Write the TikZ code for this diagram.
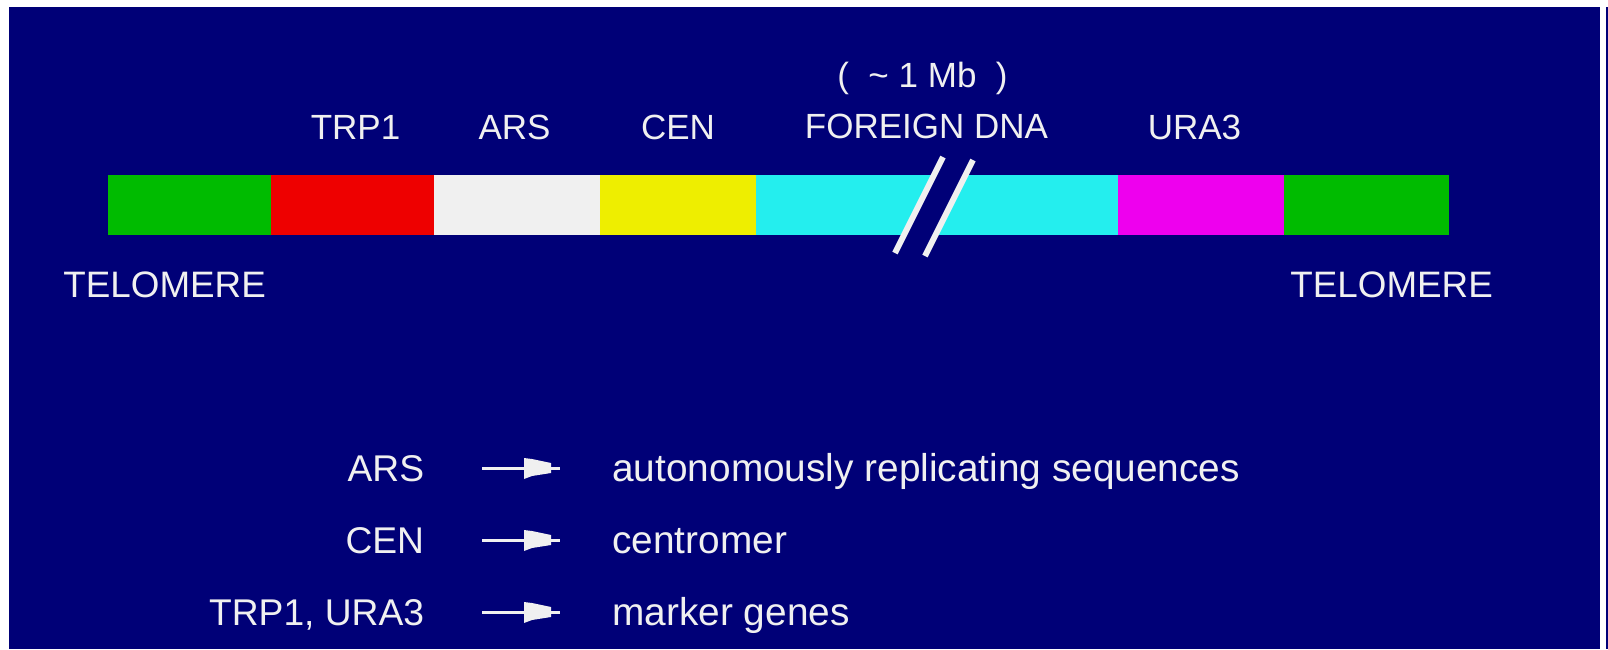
\documentclass[tikz,border=0pt]{standalone}
\usepackage{fontspec}
\setmainfont{Liberation Sans}
\definecolor{navy}{RGB}{0,0,119}
\definecolor{tgreen}{RGB}{0,187,0}
\definecolor{tred}{RGB}{238,0,0}
\definecolor{twhite}{RGB}{240,240,240}
\definecolor{tyellow}{RGB}{238,238,0}
\definecolor{tcyan}{RGB}{36,238,238}
\definecolor{tmag}{RGB}{238,0,238}
\begin{document}
\begin{tikzpicture}[x=0.5pt,y=-0.5pt,
  lbl/.style={text=twhite, inner sep=0pt, font=\fontsize{17.5}{20}\selectfont, anchor=base},
  tel/.style={lbl, font=\fontsize{18.4}{20}\selectfont, anchor=base west},
  legl/.style={text=twhite, inner sep=0pt, font=\fontsize{18.6}{22}\selectfont, anchor=base east},
  legr/.style={legl, font=\fontsize{19.4}{22}\selectfont, anchor=base west},
  legline/.style={draw=twhite, line width=1.5pt},
  slash/.style={draw=twhite, line width=3pt},
  legarrowhead/.pic={\fill[twhite] (42,-10) -- (50,-9) -- (69,-5) -- (69,5) -- (50,8) -- (42,11) -- cycle;}]
\useasboundingbox (0,0) rectangle (1608,649);
\fill[white] (0,0) rectangle (1608,649);
\fill[navy] (9,7) rectangle (1600,649);
\fill[navy] (1606,7) rectangle (1608,649);
% chromosome bar
\fill[tgreen]  (108,175) rectangle (271,235);
\fill[tred]    (271,175) rectangle (434,235);
\fill[twhite]  (434,175) rectangle (600,235);
\fill[tyellow] (600,175) rectangle (756,235);
\fill[tcyan]   (756,175) rectangle (1118,235);
\fill[tmag]    (1118,175) rectangle (1284,235);
\fill[tgreen]  (1284,175) rectangle (1449,235);
% break marks
\coordinate (s1b) at (895,253); \coordinate (s1t) at (943,157);
\coordinate (s2b) at (925,256); \coordinate (s2t) at (973,160);
\fill[navy] (s1b) -- (s1t) -- (s2t) -- (s2b) -- cycle;
\draw[slash] (s1b) -- (s1t);
\draw[slash] (s2b) -- (s2t);
% labels
\node[lbl] (trp) at (355.5,139) {TRP1};
\node[lbl] (ars) at (514.5,139) {ARS};
\node[lbl] (cen) at (678,139) {CEN};
\node[lbl] (fdna) at (926.5,138.5) {FOREIGN DNA};
\node[lbl] (mb) at (922.5,87) {(\ \ \textasciitilde\ 1 Mb\ \ )};
\node[lbl] (ura) at (1194.5,139) {URA3};
\node[tel] (tel1) at (63,297) {TELOMERE};
\node[tel] (tel2) at (1290,297) {TELOMERE};
% legend
\node[legl] (lars) at (424.5,481.5) {ARS};
\node[legl] (lcen) at (424.5,553.5) {CEN};
\node[legl] (lmark) at (424.5,625.5) {TRP1, URA3};
\node[legr] (dars) at (612,481.5) {autonomously replicating sequences};
\node[legr] (dcen) at (612,553.5) {centromer};
\node[legr] (dmark) at (612,625.5) {marker genes};
\coordinate (a1s) at (482,468); \coordinate (a1e) at (560,468);
\coordinate (a2s) at (482,540); \coordinate (a2e) at (560,540);
\coordinate (a3s) at (482,612); \coordinate (a3e) at (560,612);
\draw[legline] (a1s) -- (a1e); \pic at (a1s) {legarrowhead};
\draw[legline] (a2s) -- (a2e); \pic at (a2s) {legarrowhead};
\draw[legline] (a3s) -- (a3e); \pic at (a3s) {legarrowhead};
\end{tikzpicture}
\end{document}
